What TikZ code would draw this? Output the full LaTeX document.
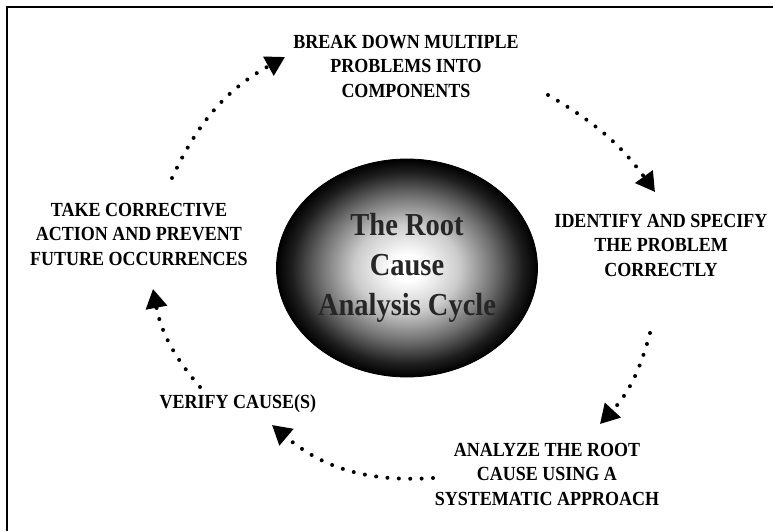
\documentclass[tikz,border=0pt]{standalone}
\usepackage{fontspec}
\setmainfont{Liberation Serif}
\newfontfamily\labelfont{Liberation Serif}[FakeStretch=0.9]
\newfontfamily\titlefont{Liberation Serif}[FakeStretch=0.89]
\usepackage{tikz}
\usetikzlibrary{arrows.meta}
\usetikzlibrary{shapes.geometric}
\pgfdeclareradialshading{rcaglow}{\pgfpoint{0bp}{0bp}}{color(0bp)=(white); color(3bp)=(white); color(10bp)=(black!20); color(17bp)=(black!58); color(22bp)=(black!88); color(25bp)=(black); color(50bp)=(black)}

\begin{document}
\begin{tikzpicture}[x=1pt, y=1pt,
    stagelabel/.style={align=center, inner sep=0pt, font=\labelfont\bfseries\fontsize{20}{24.5}\selectfont},
    rcatitle/.style={align=center, inner sep=0pt, font=\titlefont\bfseries\fontsize{32}{40}\selectfont},
    cyclearrow/.style={line width=4pt, dash pattern=on 0pt off 11.4pt, line cap=round,
                       -{Triangle[length=19pt,width=21pt]}}]
  \useasboundingbox (0,0) rectangle (773,531);
  % frame
  \draw [line width=2pt] (7,0) -- (7,524) -- (773,524);
  % centre ellipse
  \node (rca) [ellipse, draw, line width=0.8pt, inner sep=0pt, minimum width=261, minimum height=218, shading=rcaglow] at (407,263) {};
  \node (title) [rcatitle, text=black!85] at (rca) {The Root\\Cause\\Analysis Cycle};
  % steps of the cycle
  \node (break) [stagelabel] at (406,465) {BREAK DOWN MULTIPLE\\PROBLEMS INTO\\COMPONENTS};
  \node (identify) [stagelabel] at (661,286) {IDENTIFY AND SPECIFY\\THE PROBLEM\\CORRECTLY};
  \node (analyze) [stagelabel] at (547,57) {ANALYZE THE ROOT\\CAUSE USING A\\SYSTEMATIC APPROACH};
  \node (verify) [stagelabel] at (238,127) {VERIFY CAUSE(S)};
  \node (take) [stagelabel] at (139,297) {TAKE CORRECTIVE\\ACTION AND PREVENT\\FUTURE OCCURRENCES};
  % arrow ends
  \coordinate (take out) at (172,353);
  \coordinate (break in) at (285,474);
  \coordinate (break out) at (548,436);
  \coordinate (identify in) at (655,339);
  \coordinate (identify out) at (650,198);
  \coordinate (analyze in) at (600,107);
  \coordinate (analyze out) at (433,53);
  \coordinate (verify in) at (272,106);
  \coordinate (verify out) at (200,144);
  \coordinate (take in) at (153,242);
  \draw [cyclearrow] (take out) to[bend left=18] (break in);
  \draw [cyclearrow] (break out) to[bend left=12] (identify in);
  \draw [cyclearrow] (identify out) to[bend left=14] (analyze in);
  \draw [cyclearrow] (analyze out) to[bend left=22] (verify in);
  \draw [cyclearrow] (verify out) to[bend left=15] (take in);
\end{tikzpicture}
\end{document}
